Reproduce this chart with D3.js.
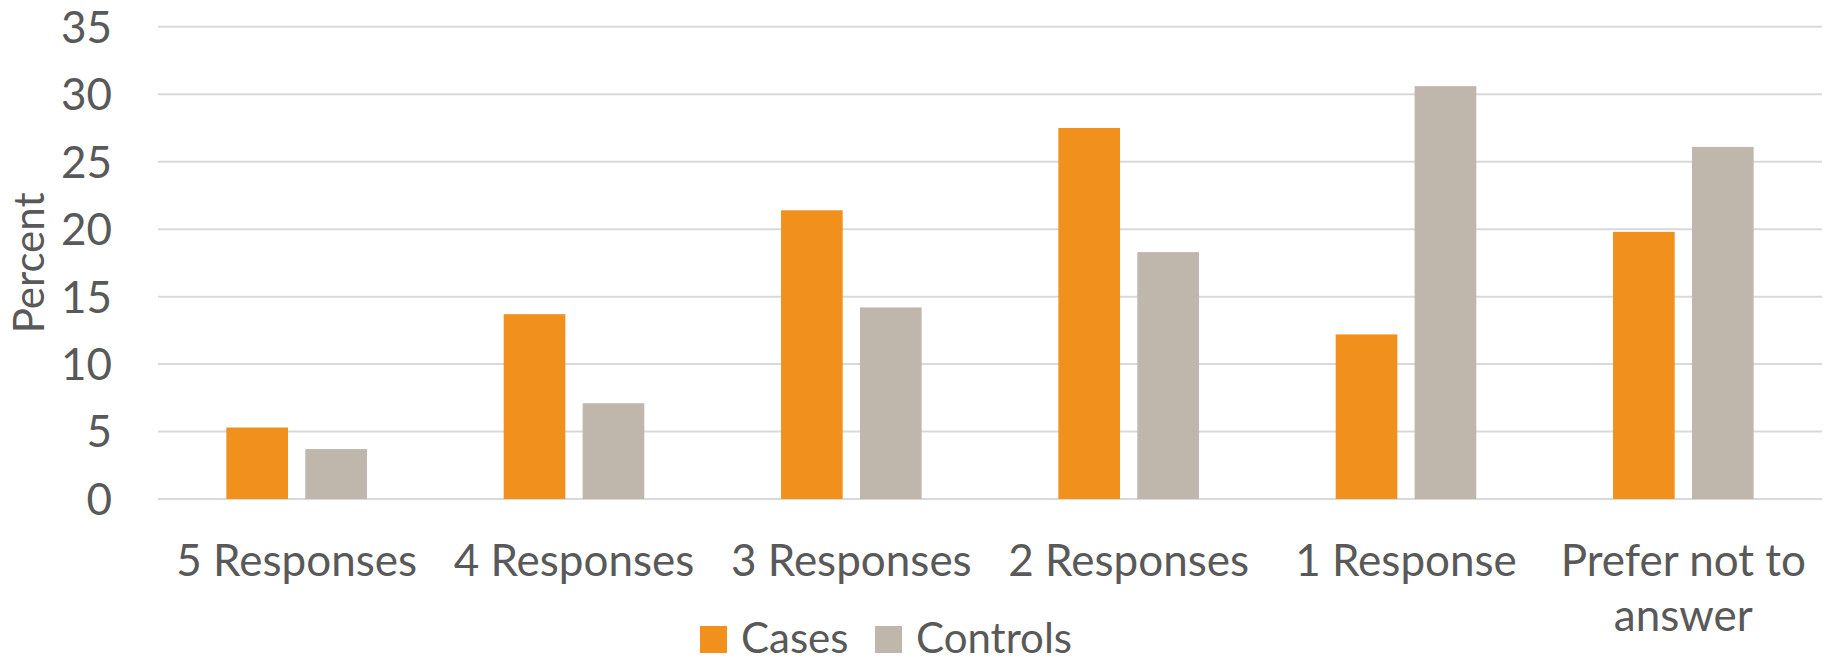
<!DOCTYPE html>
<html>
<head>
<meta charset="utf-8">
<script src="https://cdn.jsdelivr.net/npm/d3@7"></script>
<style>
  html, body { margin: 0; padding: 0; background: #fff; }
  svg { display: block; }
  text { font-family: Lato, "Open Sans", sans-serif; fill: #595959; }
</style>
</head>
<body>
<svg id="chart" width="1828" height="662"></svg>
<script>
const categories = ["5 Responses", "4 Responses", "3 Responses", "2 Responses", "1 Response", "Prefer not to answer"];
const categoryLines = [["5 Responses"], ["4 Responses"], ["3 Responses"], ["2 Responses"], ["1 Response"], ["Prefer not to", "answer"]];
const seriesNames = ["Cases", "Controls"];
const casesValues = [5.3, 13.7, 21.4, 27.5, 12.2, 19.8];
const controlsValues = [3.7, 7.1, 14.2, 18.3, 30.6, 26.1];
const yTicks = [0, 5, 10, 15, 20, 25, 30, 35];
const colors = ["#F2901E", "#BFB7AC"];
const yTitle = "Percent";

const table = categories.map((c, i) => ({ category: c, lines: categoryLines[i], values: [casesValues[i], controlsValues[i]] }));

const svg = d3.select("#chart");
const margin = { left: 158, right: 6, top: 26.8, bottom: 163 };
const W = 1828, H = 662;

const x0 = d3.scaleBand().domain(categories).range([margin.left, W - margin.right]).padding(0);
const x1 = d3.scaleBand().domain(seriesNames).range([0, x0.bandwidth()]).paddingInner(0.219).paddingOuter(0.866);
const y = d3.scaleLinear().domain([0, 35]).range([H - margin.bottom, margin.top]);

// gridlines
svg.append("g").selectAll("line").data(yTicks).join("line")
  .attr("x1", margin.left).attr("x2", W - margin.right)
  .attr("y1", d => y(d)).attr("y2", d => y(d))
  .attr("stroke", "#d9d9d9").attr("stroke-width", 2);

// y axis labels
const yAxis = d3.axisLeft(y).tickValues(yTicks).tickSize(0).tickPadding(0);
const gy = svg.append("g").attr("transform", "translate(112,0)").call(yAxis);
gy.select(".domain").remove();
gy.selectAll("text").attr("font-size", 44).attr("fill", "#595959").attr("font-family", "Lato, sans-serif").attr("dy", "0.35em");

// bars
const groups = svg.append("g").selectAll("g").data(table).join("g")
  .attr("transform", d => `translate(${x0(d.category)},0)`);
groups.selectAll("rect").data(d => d.values.map((v, j) => ({ s: seriesNames[j], v, j }))).join("rect")
  .attr("x", d => x1(d.s))
  .attr("width", x1.bandwidth())
  .attr("y", d => y(d.v))
  .attr("height", d => y(0) - y(d.v))
  .attr("fill", d => colors[d.j]);

// x labels
const xl = svg.append("g").selectAll("text").data(table).join("text")
  .attr("x", d => x0(d.category) + x0.bandwidth() / 2)
  .attr("y", 576)
  .attr("text-anchor", "middle")
  .attr("font-size", 44);
xl.selectAll("tspan").data(d => d.lines.map((l, k) => ({ l, k, x: x0(d.category) + x0.bandwidth() / 2 }))).join("tspan")
  .attr("x", d => d.x)
  .attr("dy", d => d.k === 0 ? 0 : 55)
  .text(d => d.l);

// y title
svg.append("text")
  .attr("transform", `translate(44,${(y(0) + y(35)) / 2}) rotate(-90)`)
  .attr("text-anchor", "middle")
  .attr("font-size", 42)
  .text(yTitle);

// legend
const legendX = [700, 875];
const lg = svg.append("g").selectAll("g").data(seriesNames).join("g")
  .attr("transform", (d, i) => `translate(${legendX[i]},626)`);
lg.append("rect").attr("width", 27).attr("height", 27).attr("fill", (d, i) => colors[i]);
lg.append("text").attr("x", 41).attr("y", 27).attr("font-size", 42).text(d => d);
</script>
</body>
</html>
